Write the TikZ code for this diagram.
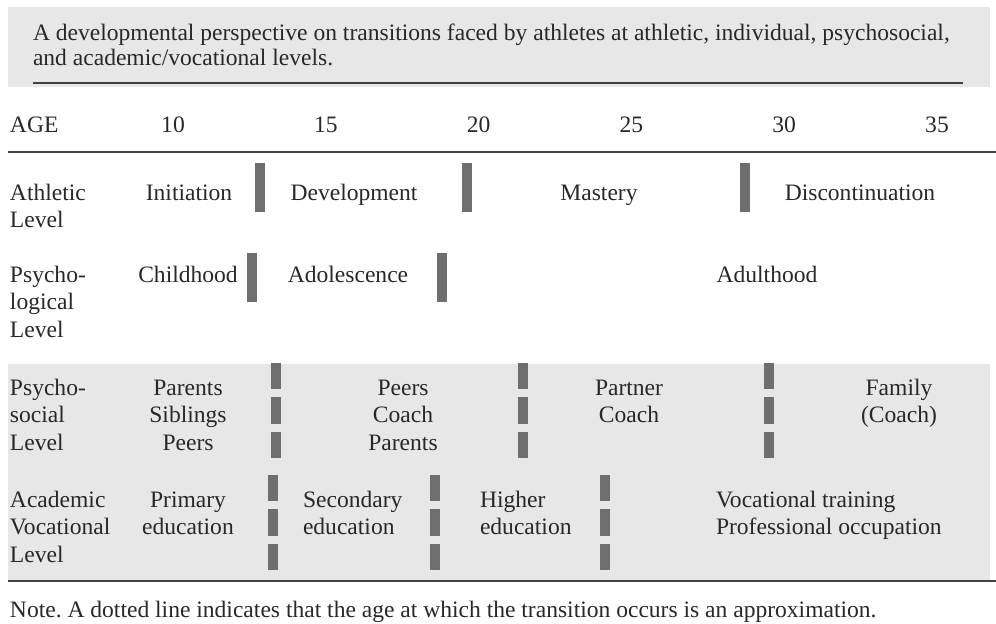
\documentclass[tikz,border=0pt]{standalone}
\usepackage{fontspec}
\setmainfont{Liberation Serif}
\frenchspacing

\definecolor{bandgray}{RGB}{231,231,231}
\definecolor{bargray}{RGB}{110,110,110}
\definecolor{inkgray}{RGB}{40,40,40}
\definecolor{rulegray}{RGB}{65,65,65}

\begin{document}
\begin{tikzpicture}[
    every node/.style={inner sep=0pt, outer sep=0pt, text=inkgray,
        font=\fontsize{13.4}{15.6}\selectfont},
    lbl/.style={anchor=base west, align=left},
    cell/.style={anchor=base, align=center},
    bar/.style={bargray, line width=0.2cm},
    dbar/.style={bar, dash pattern=on 0.527cm off 0.16cm},
    hrule/.style={rulegray, line width=1.2pt}
]

    % baselines of the first line of each row, and the line spacing
    % (a multi-line node sits on the baseline of its last line)
    \def\yAge{9.80}
    \def\yAth{8.46}
    \def\yPsy{6.82}
    \def\ySoc{4.56}
    \def\yAca{2.32}
    \def\lead{0.55}

    \useasboundingbox (0,0) rectangle (19.92,12.46);

    % shaded backgrounds
    \fill[bandgray] (0.16,10.72) rectangle (19.8,12.32);
    \fill[bandgray] (0.16,0.84) rectangle (19.8,5.18);

    % caption
    \node[lbl, font=\fontsize{13.4}{14.7}\selectfont] (caption) at (0.66,11.14)
        {A developmental perspective on transitions faced by athletes at athletic, individual, psychosocial,\\
         and academic/vocational levels.};

    % rules
    \draw[hrule] (0.66,10.80) -- (19.26,10.80);
    \draw[hrule] (0.16,9.42) -- (19.92,9.42);
    \draw[hrule] (0.16,0.84) -- (19.92,0.84);

    % age scale
    \node[lbl] (age) at (0.2,\yAge) {AGE};
    \foreach \a in {10,15,...,35}
        \node[cell] (age\a) at ({3.46+(\a-10)*0.6112},\yAge) {\a};

    % athletic level
    \node[lbl] (athletic) at (0.2,{\yAth-\lead}) {Athletic\\Level};
    \node[cell] (initiation) at (3.78,\yAth) {Initiation};
    \node[cell] (development) at (7.08,\yAth) {Development};
    \node[cell] (mastery) at (11.98,\yAth) {Mastery};
    \node[cell] (discontinuation) at (17.2,\yAth) {Discontinuation};
    \draw[bar] (5.2,9.2) -- (5.2,8.22);
    \draw[bar] (9.34,9.2) -- (9.34,8.22);
    \draw[bar] (14.9,9.2) -- (14.9,8.22);

    % psychological level
    \node[lbl] (psychological) at (0.2,{\yPsy-2*\lead}) {Psycho-\\logical\\Level};
    \node[cell] (childhood) at (3.76,\yPsy) {Childhood};
    \node[cell] (adolescence) at (6.96,\yPsy) {Adolescence};
    \node[cell] (adulthood) at (15.34,\yPsy) {Adulthood};
    \draw[bar] (5.04,7.4) -- (5.04,6.42);
    \draw[bar] (8.84,7.4) -- (8.84,6.42);

    % psychosocial level
    \node[lbl] (psychosocial) at (0.2,{\ySoc-2*\lead}) {Psycho-\\social\\Level};
    \node[cell] (soc1) at (3.76,{\ySoc-2*\lead}) {Parents\\Siblings\\Peers};
    \node[cell] (soc2) at (8.06,{\ySoc-2*\lead}) {Peers\\Coach\\Parents};
    \node[cell] (soc3) at (12.58,{\ySoc-\lead}) {Partner\\Coach};
    \node[cell] (soc4) at (17.98,{\ySoc-\lead}) {Family\\(Coach)};
    \draw[dbar] (5.52,5.2) -- (5.52,3.3);
    \draw[dbar] (10.46,5.2) -- (10.46,3.3);
    \draw[dbar] (15.38,5.2) -- (15.38,3.3);

    % academic/vocational level
    \node[lbl] (academic) at (0.2,{\yAca-2*\lead}) {Academic\\Vocational\\Level};
    \node[cell] (primary) at (3.76,{\yAca-\lead}) {Primary\\education};
    \node[lbl] (secondary) at (6.06,{\yAca-\lead}) {Secondary\\education};
    \node[lbl] (higher) at (9.6,{\yAca-\lead}) {Higher\\education};
    \node[lbl] (vocational) at (14.32,{\yAca-\lead}) {Vocational training\\Professional occupation};
    \draw[dbar] (5.46,2.96) -- (5.46,1.02);
    \draw[dbar] (8.7,2.96) -- (8.7,1.02);
    \draw[dbar] (12.1,2.96) -- (12.1,1.02);

    % footnote
    \node[lbl] (note) at (0.2,0.12)
        {Note. A dotted line indicates that the age at which the transition occurs is an approximation.};

\end{tikzpicture}
\end{document}
